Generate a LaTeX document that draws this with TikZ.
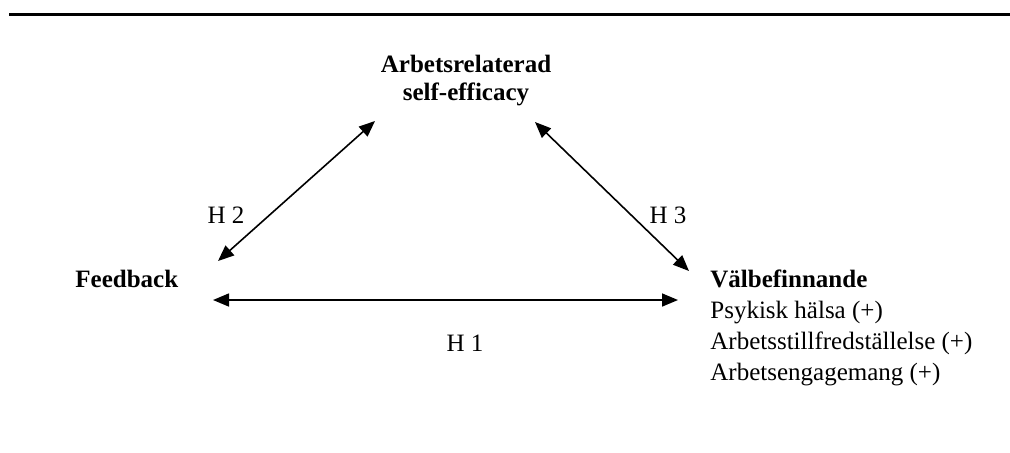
\documentclass[tikz,border=0pt]{standalone}
\usepackage{fontspec}
\setmainfont{Liberation Serif}
\usetikzlibrary{arrows.meta}

\tikzset{
  link/.style={line width=0.8pt, {Triangle[length=8pt,width=6.5pt]}-{Triangle[length=8pt,width=6.5pt]}},
  hyp/.style={inner sep=0pt, font=\fontsize{12.5}{14}\selectfont},
}

\begin{document}
\begin{tikzpicture}[x=0.5pt, y=-0.5pt]
            \useasboundingbox (0,0) rectangle (1010,452);
            \draw[line width=1.5pt] (9,14) -- (1010,14);

            \node[anchor=north, align=center, inner sep=0pt, font=\fontsize{12.5}{14}\selectfont\bfseries] (efficacy) at (466,55) {Arbetsrelaterad\\self-efficacy};
            \node[anchor=base west, inner sep=0pt, font=\fontsize{12.5}{14}\selectfont\bfseries] (feedback) at (75,287) {Feedback};
            \node[anchor=north west, align=left, inner sep=0pt, font=\fontsize{12.5}{15.5}\selectfont] (wellbeing) at (710,269.5) {\textbf{Välbefinnande}\\Psykisk hälsa (+)\\Arbetsstillfredställelse (+)\\Arbetsengagemang (+)};

            \coordinate (e1) at (375,121);
            \coordinate (e2) at (535,122);
            \coordinate (f1) at (218,261);
            \coordinate (f2) at (213,300);
            \coordinate (w1) at (689,271);
            \coordinate (w2) at (678,300);

            \draw[link] (f1) -- (e1);
            \draw[link] (e2) -- (w1);
            \draw[link] (f2) -- (w2);

            \node[hyp] (h2) at (226,215) {H 2};
            \node[hyp] (h3) at (668,215) {H 3};
            \node[hyp] (h1) at (465,343) {H 1};
        \end{tikzpicture}
\end{document}
